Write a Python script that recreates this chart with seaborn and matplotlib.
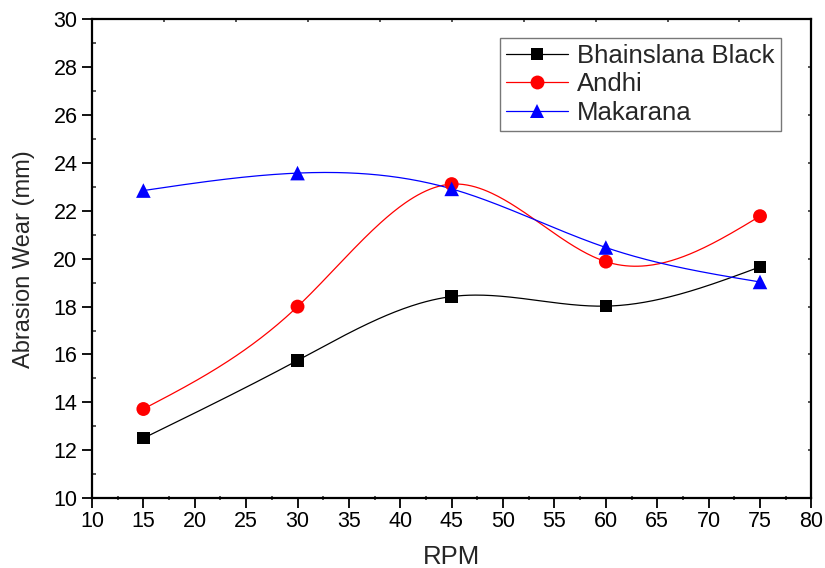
import numpy as np
import pandas as pd
import matplotlib
matplotlib.use("Agg")
import matplotlib.pyplot as plt
from matplotlib.lines import Line2D
from matplotlib.ticker import MultipleLocator, FixedLocator
import seaborn as sns

# Measured abrasion wear at each spindle speed
rpm = [15, 30, 45, 60, 75]
bhainslana_black = [12.5, 15.75, 18.42, 18.02, 19.66]
andhi = [13.72, 18.0, 23.12, 19.88, 21.78]
makarana = [22.85, 23.58, 22.92, 20.47, 19.03]

series_names = ["Bhainslana Black", "Andhi", "Makarana"]
series_values = [bhainslana_black, andhi, makarana]
colors = ["black", "red", "blue"]
markers = ["s", "o", "^"]
marker_sizes = [9, 10, 10.5]

x_ticks = [10, 15, 20, 25, 30, 35, 40, 45, 50, 55, 60, 65, 70, 75, 80]
y_ticks = [10, 12, 14, 16, 18, 20, 22, 24, 26, 28, 30]


def natural_spline(x, y, n=300):
    """Natural cubic spline through the points, sampled on a fine grid."""
    x = np.asarray(x, float)
    y = np.asarray(y, float)
    k = len(x)
    h = np.diff(x)
    A = np.zeros((k, k))
    b = np.zeros(k)
    A[0, 0] = A[-1, -1] = 1.0
    for i in range(1, k - 1):
        A[i, i - 1] = h[i - 1]
        A[i, i] = 2 * (h[i - 1] + h[i])
        A[i, i + 1] = h[i]
        b[i] = 6 * ((y[i + 1] - y[i]) / h[i] - (y[i] - y[i - 1]) / h[i - 1])
    M = np.linalg.solve(A, b)
    xs = np.linspace(x[0], x[-1], n)
    idx = np.clip(np.searchsorted(x, xs) - 1, 0, k - 2)
    x0, x1 = x[idx], x[idx + 1]
    hh = x1 - x0
    t0 = x1 - xs
    t1 = xs - x0
    ys = (M[idx] * t0 ** 3 / (6 * hh) + M[idx + 1] * t1 ** 3 / (6 * hh)
          + (y[idx] / hh - M[idx] * hh / 6) * t0
          + (y[idx + 1] / hh - M[idx + 1] * hh / 6) * t1)
    return xs, ys


points = pd.DataFrame({
    "RPM": rpm * len(series_names),
    "Wear": sum(series_values, []),
    "Stone": sum([[n] * len(rpm) for n in series_names], []),
})

curves = []
for name, vals in zip(series_names, series_values):
    xs, ys = natural_spline(rpm, vals)
    curves.append(pd.DataFrame({"RPM": xs, "Wear": ys, "Stone": name}))
curves = pd.concat(curves, ignore_index=True)

sns.set_theme(style="white")
plt.rcParams["font.family"] = ["Liberation Sans", "DejaVu Sans"]

fig = plt.figure(figsize=(8.25, 5.68), dpi=100)
ax = fig.add_axes([0.1115, 0.1232, 0.872, 0.8425])

palette = dict(zip(series_names, colors))
sns.lineplot(data=curves, x="RPM", y="Wear", hue="Stone", palette=palette,
             linewidth=0.9, legend=False, ax=ax, sort=False, estimator=None)
for name, m, ms in zip(series_names, markers, marker_sizes):
    sub = points[points["Stone"] == name]
    sns.scatterplot(data=sub, x="RPM", y="Wear", color=palette[name], marker=m,
                    s=ms ** 2, edgecolor="none", legend=False, ax=ax, zorder=5)

ax.set_xlim(10, 80)
ax.set_ylim(10, 30)
ax.xaxis.set_major_locator(FixedLocator(x_ticks))
ax.yaxis.set_major_locator(FixedLocator(y_ticks))
ax.xaxis.set_minor_locator(MultipleLocator(2.5))
ax.yaxis.set_minor_locator(MultipleLocator(1))

for s in ax.spines.values():
    s.set_linewidth(1.6)
    s.set_color("black")

ax.tick_params(axis="both", which="major", direction="out", length=7.5, width=1.3,
               labelsize=15.5, colors="black", pad=2, bottom=True, left=True)
ax.tick_params(axis="x", which="minor", direction="inout", length=3, width=1.1,
               bottom=True)
ax.tick_params(axis="y", which="minor", direction="in", length=3, width=1.1,
               left=True)
ax.tick_params(axis="y", which="major", pad=3)

# Short inward ticks on the top and right frame
top = ax.secondary_xaxis("top")
top.xaxis.set_major_locator(FixedLocator(list(range(17, 81, 7))))
top.tick_params(direction="in", length=2.5, width=1.1, labeltop=False, top=True)
top.spines["top"].set_visible(False)
right = ax.secondary_yaxis("right")
right.yaxis.set_major_locator(FixedLocator(y_ticks))
right.tick_params(direction="in", length=2.5, width=1.1, labelright=False, right=True)
right.spines["right"].set_visible(False)

ax.set_xlabel("RPM", fontsize=18.5, labelpad=9)
ax.set_ylabel("Abrasion Wear (mm)", fontsize=17, labelpad=13)

handles = [Line2D([], [], color=c, marker=m, markersize=ms, linewidth=0.9,
                  markeredgewidth=0)
           for c, m, ms in zip(colors, markers, marker_sizes)]
leg = ax.legend(handles, series_names, loc="upper right",
                bbox_to_anchor=(0.9576, 0.962), fontsize=18.5, frameon=True,
                fancybox=False, edgecolor="#555555", handlelength=2.4,
                handletextpad=0.35, labelspacing=0.17, borderpad=0.25,
                borderaxespad=0)
leg.get_frame().set_linewidth(1.0)

fig.savefig("out.png", dpi=100)
